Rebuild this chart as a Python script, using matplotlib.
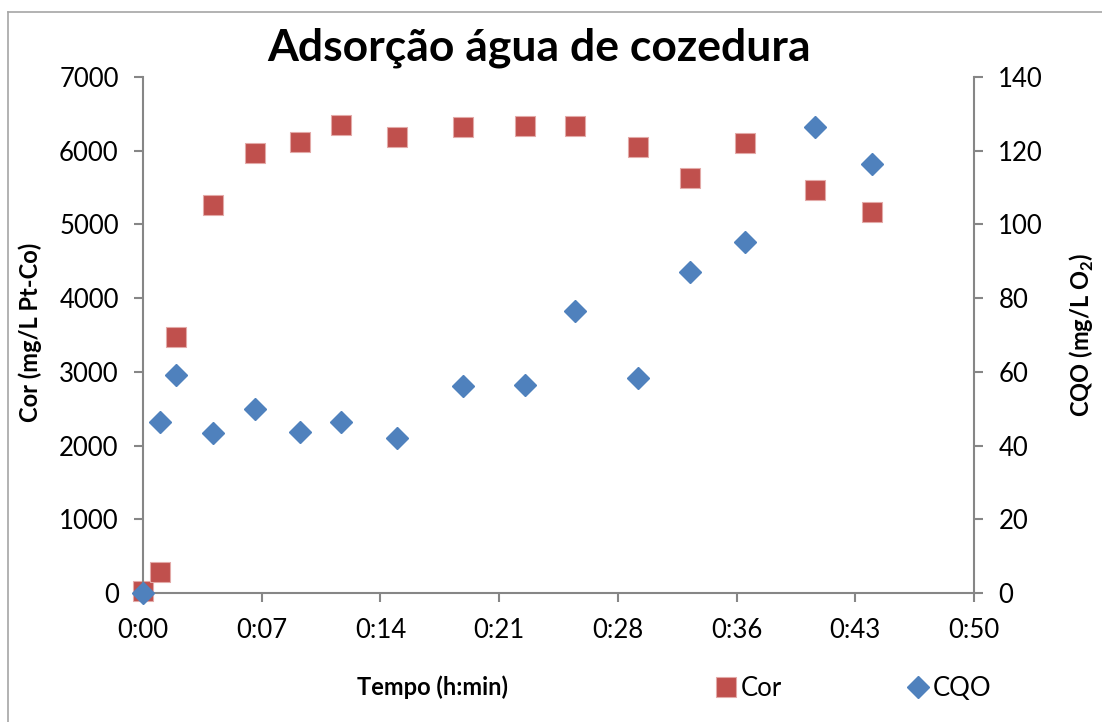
import matplotlib
matplotlib.use("Agg")
import matplotlib.pyplot as plt
from matplotlib.lines import Line2D
from matplotlib.ticker import FixedLocator, FuncFormatter

plt.rcParams['font.family'] = ['Lato', 'DejaVu Sans']
plt.rcParams['mathtext.fontset'] = 'custom'
plt.rcParams['mathtext.rm'] = 'Lato'
plt.rcParams['mathtext.bf'] = 'Lato:bold'

# tempo em minutos
tempo = [0, 1, 2, 4.25, 6.8, 9.5, 12, 15.4, 19.4, 23.15, 26.2, 30, 33.15, 36.5, 40.75, 44.2]
cor = [30, 287, 3470, 5264, 5974, 6119, 6353, 6183, 6322, 6340, 6332, 6051, 5627, 6105, 5472, 5174]
cqo = [0, 46.5, 59.3, 43.5, 49.9, 43.6, 46.4, 42.0, 56.3, 56.5, 76.6, 58.4, 87.2, 95.3, 126.3, 116.4]

x_ticks = [0, 7.2, 14.4, 21.6, 28.8, 36.0, 43.2, 50.4]
cor_ticks = [0, 1000, 2000, 3000, 4000, 5000, 6000, 7000]
cqo_ticks = [0, 20, 40, 60, 80, 100, 120, 140]

RED = '#C0504D'
BLUE = '#4F81BD'
GRAY = '#868686'


def hmin(m, pos=None):
    m = int(round(m * 10)) / 10.0
    return f"{int(m // 60)}:{int(m % 60):02d}"


fig = plt.figure(figsize=(11.02, 7.22), dpi=100)
ax = fig.add_axes([0.1298, 0.1784, 0.7540, 0.7150])
ax2 = ax.twinx()

ax.plot(tempo, cor, linestyle='none', marker='s', markersize=15, clip_on=False,
        color=RED, markeredgecolor='#E3AAA8', markeredgewidth=0.8, label='Cor')
ax2.plot(tempo, cqo, linestyle='none', marker='D', markersize=11.2, clip_on=False,
         color=BLUE, markeredgecolor=BLUE, label='CQO')

ax.set_xlim(0, 50.4)
ax.set_ylim(0, 7000)
ax2.set_ylim(0, 140)
ax.xaxis.set_major_locator(FixedLocator(x_ticks))
ax.xaxis.set_major_formatter(FuncFormatter(hmin))
ax.set_yticks(cor_ticks)
ax2.set_yticks(cqo_ticks)

for a in (ax, ax2):
    a.spines['top'].set_visible(False)
    for s in ('left', 'right', 'bottom'):
        a.spines[s].set_color(GRAY)
        a.spines[s].set_linewidth(1.5)
    a.tick_params(axis='both', direction='out', length=6.5, width=1.5,
                  color=GRAY, labelsize=18.5, pad=11)
ax.spines['right'].set_visible(False)
ax2.spines['left'].set_visible(False)
ax2.spines['bottom'].set_visible(False)

ax.set_xlabel('Tempo (h:min)', fontsize=17, fontweight='bold')
ax.set_ylabel('Cor (mg/L Pt-Co)', fontsize=17, fontweight='bold')
ax2.set_ylabel(r'CQO (mg/L O$_\mathbf{2}$)', fontsize=17, fontweight='bold')
ax.xaxis.set_label_coords(0.348, -0.159)
ax.yaxis.set_label_coords(-0.1215, 0.506)
ax2.yaxis.set_label_coords(1.113, 0.5)

fig.text(0.489, 0.934, 'Adsorção água de cozedura', ha='center', va='center',
         fontsize=32, fontweight='bold')

handles = [
    Line2D([], [], linestyle='none', marker='s', markersize=15, color=RED,
           markeredgecolor='#E3AAA8', markeredgewidth=0.8),
    Line2D([], [], linestyle='none', marker='D', markersize=11.2, color=BLUE),
]
fig.legend(handles, ['Cor', 'CQO'], loc='center', bbox_to_anchor=(0.775, 0.047),
           ncol=2, frameon=False, fontsize=18.5, handlelength=0.75, handletextpad=0.2,
           columnspacing=4.9)

# moldura da área do gráfico
fig.add_artist(Line2D([0.0075, 0.0075], [0, 0.983], color='#A6A6A6', linewidth=1.2))
fig.add_artist(Line2D([0.0075, 1], [0.983, 0.983], color='#A6A6A6', linewidth=1.2))

fig.savefig('out.png', dpi=100, facecolor='white')
